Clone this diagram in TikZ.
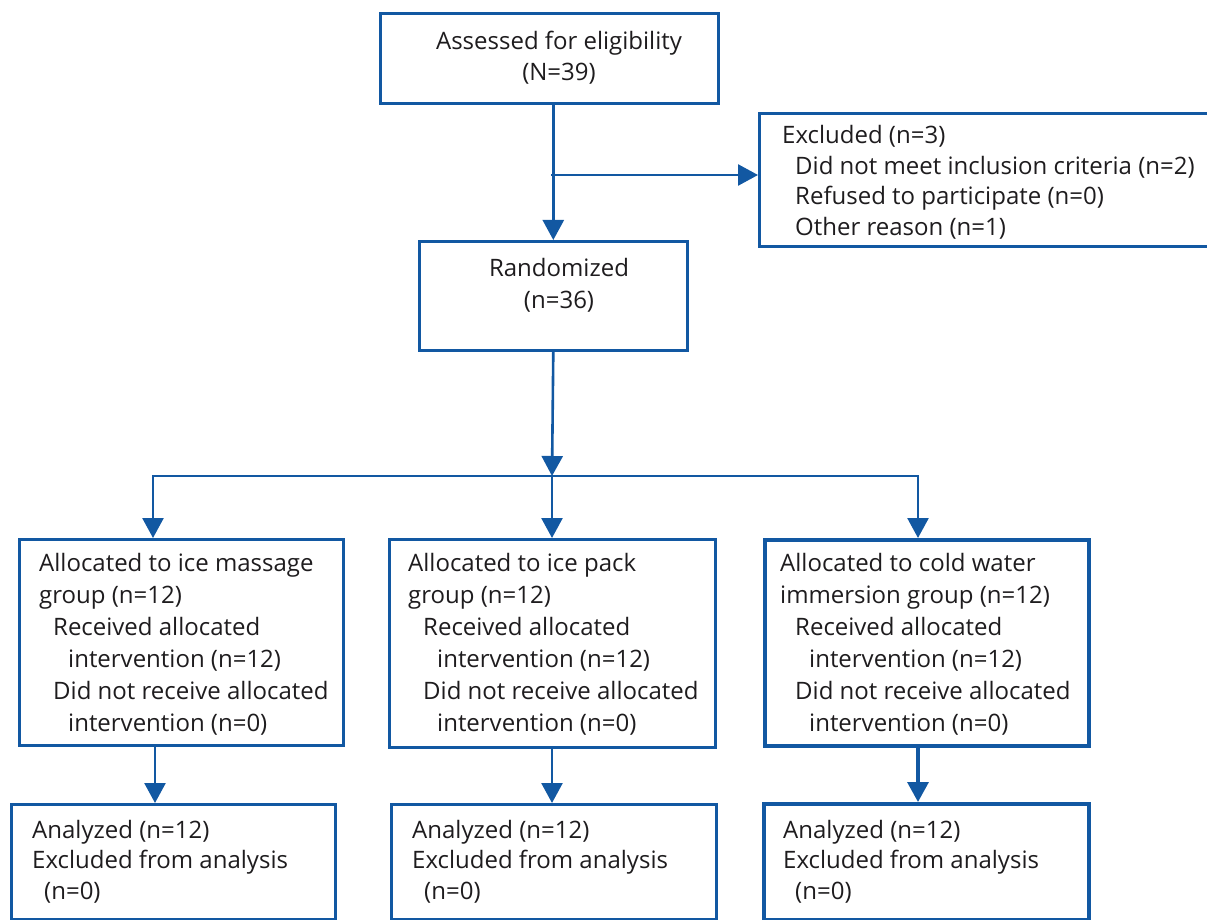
\documentclass[tikz,border=0pt]{standalone}
\usepackage{fontspec}
\setmainfont{Open Sans}
\usetikzlibrary{arrows.meta}
\definecolor{cblue}{RGB}{18,88,162}
\definecolor{ctext}{RGB}{30,28,30}
\tikzset{
 box/.style={draw=cblue, line width=2.6pt, inner sep=0pt, anchor=north west},
 boxthick/.style={box, line width=3.6pt},
 txt/.style={inner sep=0pt, anchor=base west, text=ctext, font=\fontsize{24}{28}\selectfont},
 ctxt/.style={txt, anchor=base},
 conn/.style={draw=cblue, line width=2.6pt, line cap=rect},
 arr/.style={conn, -{Triangle[length=20pt,width=21pt]}},
}
\begin{document}
\begin{tikzpicture}[x=1pt,y=-1pt]
\useasboundingbox (0,0) rectangle (1207,920);
\clip (0,0) rectangle (1207,920);
% boxes
\node[box, minimum width=338pt, minimum height=90pt] (assess) at (379,12) {};
\node[box, minimum width=460pt, minimum height=133pt] (ex) at (758,112) {};
\node[box, minimum width=268pt, minimum height=109pt] (rand) at (418,240) {};
\node[box, minimum width=324pt, minimum height=206pt] (g1) at (18,538) {};
\node[box, minimum width=326pt, minimum height=208pt] (g2) at (388,538) {};
\node[boxthick, minimum width=324pt, minimum height=206pt] (g3) at (763,538) {};
\node[box, minimum width=324pt, minimum height=115pt] (a1) at (10,803) {};
\node[box, minimum width=325pt, minimum height=115pt] (a2) at (390,803) {};
\node[boxthick, minimum width=325pt, minimum height=116pt] (a3) at (762,802) {};
% texts
\node[ctxt] (ta1) at (559,50) {Assessed for eligibility};
\node[ctxt] (ta2) at (559,81) {(N=39)};
\node[txt] (te1) at (782,144) {Excluded (n=3)};
\node[txt] (te2) at (795,175) {Did not meet inclusion criteria (n=2)};
\node[txt] (te3) at (795,205) {Refused to participate (n=0)};
\node[txt] (te4) at (795,235) {Other reason (n=1)};
\node[ctxt] (tr1) at (559,276) {Randomized};
\node[ctxt] (tr2) at (559,308) {(n=36)};
% group 1
\node[txt] (tg11) at (39,571) {Allocated to ice massage};
\node[txt] (tg12) at (39,603) {group (n=12)};
\node[txt] (tg13) at (53,635) {Received allocated};
\node[txt] (tg14) at (68,667) {intervention (n=12)};
\node[txt] (tg15) at (53,699) {Did not receive allocated};
\node[txt] (tg16) at (68,731) {intervention (n=0)};
% group 2
\node[txt] (tg21) at (408,571) {Allocated to ice pack};
\node[txt] (tg22) at (408,603) {group (n=12)};
\node[txt] (tg23) at (423,635) {Received allocated};
\node[txt] (tg24) at (437,667) {intervention (n=12)};
\node[txt] (tg25) at (423,699) {Did not receive allocated};
\node[txt] (tg26) at (437,731) {intervention (n=0)};
% group 3
\node[txt] (tg31) at (780,571) {Allocated to cold water};
\node[txt] (tg32) at (780,603) {immersion group (n=12)};
\node[txt] (tg33) at (795,635) {Received allocated};
\node[txt] (tg34) at (809,667) {intervention (n=12)};
\node[txt] (tg35) at (795,699) {Did not receive allocated};
\node[txt] (tg36) at (809,731) {intervention (n=0)};
% analysis
\node[txt] (tn11) at (32,838) {Analyzed (n=12)};
\node[txt] (tn12) at (32,868) {Excluded from analysis};
\node[txt] (tn13) at (44,899) {(n=0)};
\node[txt] (tn21) at (412,838) {Analyzed (n=12)};
\node[txt] (tn22) at (412,868) {Excluded from analysis};
\node[txt] (tn23) at (424,899) {(n=0)};
\node[txt] (tn31) at (783,838) {Analyzed (n=12)};
\node[txt] (tn32) at (783,868) {Excluded from analysis};
\node[txt] (tn33) at (795,899) {(n=0)};
% connector coordinates
\coordinate (exj) at (552,175);
\coordinate (split) at (552,476);
\coordinate (c1) at (153,476);
\coordinate (c3) at (918,476);
\coordinate (d1) at (155,0);
\coordinate (d2) at (552,0);
\coordinate (d3) at (918,0);
% connectors
\draw[arr] (rand.north |- assess.south) -- (rand.north);
\draw[arr] (exj) -- (ex.west |- exj);
\draw[arr] (rand.south) -- (split);
\draw[conn] (c1) -- (c3);
\draw[arr] (c1) -- (c1 |- g1.north);
\draw[arr] (split) -- (split |- g2.north);
\draw[arr] (c3) -- (c3 |- g3.north);
\draw[arr] (d1 |- g1.south) -- (d1 |- a1.north);
\draw[arr] (d2 |- g2.south) -- (d2 |- a2.north);
\draw[arr, line width=3.4pt] (d3 |- g3.south) -- (d3 |- a3.north);
\end{tikzpicture}
\end{document}
